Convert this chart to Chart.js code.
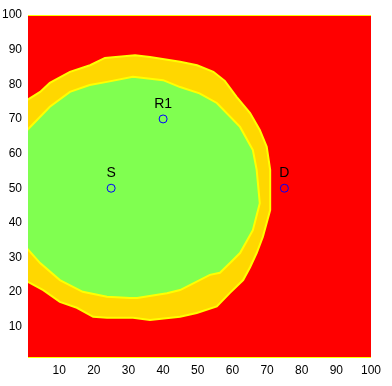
<!DOCTYPE html>
<html>
<head>
<meta charset="utf-8">
<script src="https://cdn.jsdelivr.net/npm/chart.js@4/dist/chart.umd.min.js"></script>
<style>
  body { margin: 0; background: #fff; }
  #wrap { width: 392px; height: 386px; position: relative; }
</style>
</head>
<body>
<div id="wrap"><canvas id="coverage"></canvas></div>
<script>
// outer edge of the yellow band
const outerX = [0, 4.5, 7.3, 13.1, 18.9, 23.2, 31.9, 36.2, 44.9, 49.8, 54.5, 57.8, 61.2, 65.1, 67.9, 69.9, 70.9, 70.9, 68.8, 67, 65.1, 63.1, 59.3, 55.5, 49.7, 44.9, 36.2, 31.3, 23.8, 19.8, 15.1, 10.2, 5.4, 0];
const outerY = [75, 77.8, 80.4, 83.6, 85.5, 87.6, 88.4, 87.9, 86.5, 85.5, 83.6, 81, 76.4, 71.7, 66.8, 62, 55.3, 43.7, 36, 31.3, 27.2, 23.5, 19.8, 15.9, 14, 12.9, 12, 12.6, 12.6, 12.9, 15.5, 17.2, 20.6, 23.5];
// edge of the green area
const innerX = [0, 7.3, 13.1, 18.8, 23.8, 31.3, 40, 44.9, 50.5, 55.5, 62.2, 65.9, 67, 67.9, 65.9, 62.2, 59.3, 56.4, 53.5, 44.9, 41.1, 32.5, 30.4, 23.8, 16.8, 10.2, 4.5, 0];
const innerY = [66, 73.5, 77.8, 79.8, 80.7, 82.2, 81.2, 79.2, 77.4, 74.6, 67.7, 61, 55.3, 45.7, 37.9, 31.3, 28.4, 25.6, 25, 20.6, 19.7, 18.3, 18.3, 18.7, 20.1, 23.5, 28.4, 33.4];
// nodes
const nodeNames = ["S", "R1", "D"];
const nodeX = [25, 40, 75];
const nodeY = [50, 70, 50];
const tickValues = [10, 20, 30, 40, 50, 60, 70, 80, 90, 100];

function toPoints(xs, ys) {
    var pts = xs.map((v, i) => ({ x: v, y: ys[i] }));
    pts.push(pts[0]);
    return pts;
}

const FONT = "'Liberation Sans', Arial, sans-serif";

// red field + thin yellow rows at top and bottom of the image
const fieldPlugin = {
    id: 'field',
    beforeDatasetsDraw(chart) {
        const a = chart.chartArea, c = chart.ctx;
        c.save();
        c.fillStyle = '#ff0000';
        c.fillRect(a.left, a.top, a.right - a.left, a.bottom - a.top);
        c.restore();
    },
    afterDatasetsDraw(chart) {
        const a = chart.chartArea, c = chart.ctx;
        c.save();
        c.fillStyle = '#ffff00';
        c.fillRect(a.left, a.top, a.right - a.left, 1);
        c.fillRect(a.left, a.bottom - 1, a.right - a.left, 1);
        // node names above the markers
        c.fillStyle = '#000';
        c.font = '14px ' + FONT;
        c.textAlign = 'center';
        c.textBaseline = 'alphabetic';
        const xs = chart.scales.x, ys = chart.scales.y;
        nodeNames.forEach((n, i) => {
            c.fillText(n, xs.getPixelForValue(nodeX[i]), ys.getPixelForValue(nodeY[i]) - 11);
        });
        c.restore();
    }
};

const tickOpts = {
    color: '#000',
    font: { family: FONT, size: 12 },
};

new Chart(document.getElementById('coverage'), {
    type: 'scatter',
    data: {
        datasets: [
            {
                data: nodeX.map((v, i) => ({ x: v, y: nodeY[i] })),
                pointRadius: 4,
                pointBorderWidth: 1,
                borderColor: '#0000ff',
                backgroundColor: 'rgba(0,0,0,0)',
                order: 0,
                clip: false
            },
            {
                data: toPoints(innerX, innerY),
                showLine: true,
                backgroundColor: '#80ff50',
                borderColor: '#ffff00',
                borderWidth: 2,
                pointRadius: 0,
                fill: 'shape',
                tension: 0,
                order: 1,
                clip: 0
            },
            {
                data: toPoints(outerX, outerY),
                showLine: true,
                backgroundColor: '#ffd700',
                borderColor: '#ffff00',
                borderWidth: 2,
                pointRadius: 0,
                fill: 'shape',
                tension: 0,
                order: 2,
                clip: 0
            }
        ]
    },
    options: {
        responsive: true,
        maintainAspectRatio: false,
        animation: false,
        layout: { padding: { top: 15, right: 21, left: 0, bottom: 0 } },
        plugins: {
            legend: { display: false },
            tooltip: { enabled: false },
            filler: { drawTime: 'beforeDatasetDraw' }
        },
        scales: {
            x: {
                type: 'linear',
                min: 1,
                max: 100,
                grid: { display: false, drawTicks: false },
                border: { display: false },
                afterBuildTicks: (s) => { s.ticks = tickValues.map(v => ({ value: v })); },
                afterFit: (s) => { s.height = 28; },
                ticks: Object.assign({ padding: 5, maxRotation: 0, autoSkip: false }, tickOpts)
            },
            y: {
                type: 'linear',
                min: 1,
                max: 100,
                grid: { display: false, drawTicks: false },
                border: { display: false },
                afterBuildTicks: (s) => { s.ticks = tickValues.map(v => ({ value: v })); },
                afterFit: (s) => { s.width = 28; },
                ticks: Object.assign({ padding: 6, autoSkip: false }, tickOpts)
            }
        }
    },
    plugins: [fieldPlugin]
});
</script>
</body>
</html>
